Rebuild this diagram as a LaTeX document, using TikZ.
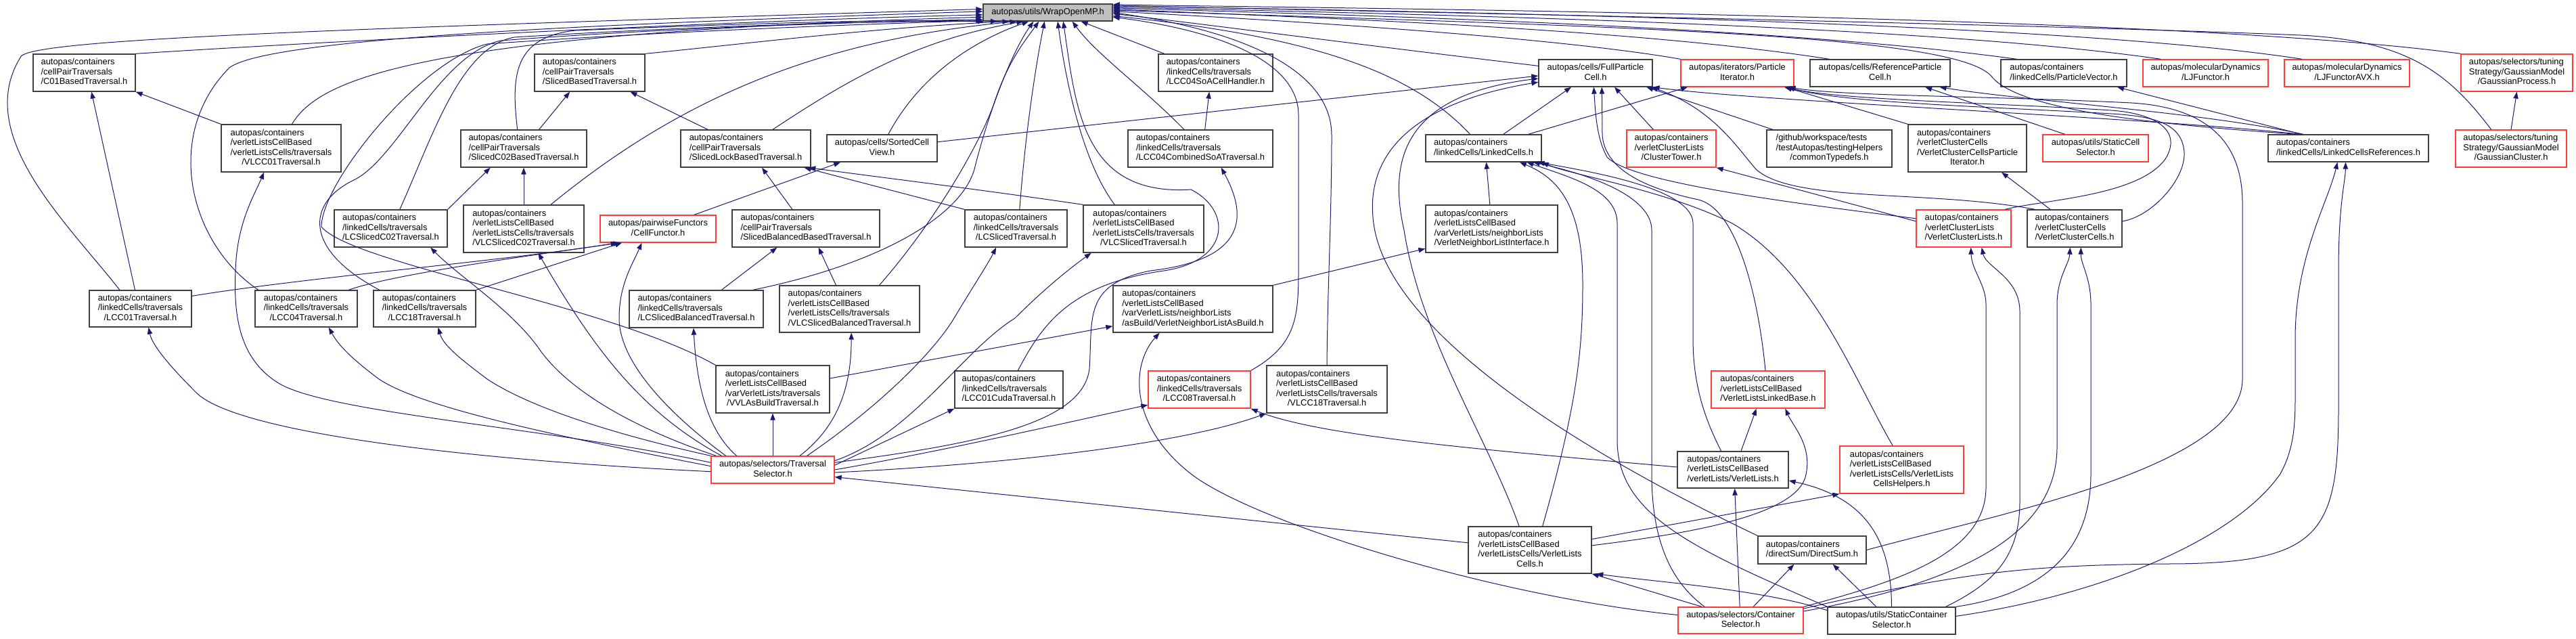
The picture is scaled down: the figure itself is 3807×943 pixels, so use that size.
\documentclass[tikz,border=0pt]{standalone}
\usepackage{fontspec}
\setmainfont{Liberation Sans}
\usetikzlibrary{arrows.meta}
\definecolor{edgeblue}{RGB}{25,25,112}
\definecolor{hotred}{RGB}{255,60,60}
\definecolor{boxgray}{RGB}{64,64,64}
\definecolor{rootfill}{RGB}{191,191,191}
\newcommand{\flines}[1]{\begin{tabular}{@{}l@{}}#1\end{tabular}}
\newcommand{\lastl}[1]{\multicolumn{1}{@{}c@{}}{#1}}
\tikzset{
  file/.style={draw=boxgray, line width=1pt, fill=white, inner sep=0pt,
    font=\fontsize{9.67}{10.9}\selectfont},
  hot/.style={file, draw=hotred},
  sz/.style 2 args={minimum width=#1*0.75pt, minimum height=#2*0.75pt},
  dep/.style={draw=edgeblue, line width=0.75pt, -{Triangle[length=7.5pt,width=5.5pt]}},
}
\begin{document}
\begin{tikzpicture}[x=0.75pt, y=-0.75pt]
  \useasboundingbox (0,0) rectangle (3807,943);
  \node[file, fill=rootfill, sz={191}{25}] (wrap) at (1548.5,18.5) {autopas/utils/WrapOpenMP.h};
  % row 2
  \node[file, sz={151}{55}] (c01b) at (124.5,107.5) {\flines{autopas/containers\\/cellPairTraversals\\\lastl{/C01BasedTraversal.h}}};
  \node[file, sz={163}{55}] (slb) at (871.5,107.5) {\flines{autopas/containers\\/cellPairTraversals\\\lastl{/SlicedBasedTraversal.h}}};
  \node[file, sz={169}{55}] (soah) at (1796.5,107.5) {\flines{autopas/containers\\/linkedCells/traversals\\\lastl{/LCC04SoACellHandler.h}}};
  \node[file, sz={168}{40}] (fpc) at (2358,108) {\flines{autopas/cells/FullParticle\\\lastl{Cell.h}}};
  \node[hot, sz={167}{40}] (pit) at (2567.5,108) {\flines{autopas/iterators/Particle\\\lastl{Iterator.h}}};
  \node[file, sz={207}{40}] (rpc) at (2778.5,108) {\flines{autopas/cells/ReferenceParticle\\\lastl{Cell.h}}};
  \node[file, sz={186}{40}] (pvec) at (3050,108) {\flines{autopas/containers\\\lastl{/linkedCells/ParticleVector.h}}};
  \node[hot, sz={185}{40}] (ljf) at (3259.5,108) {\flines{autopas/molecularDynamics\\\lastl{/LJFunctor.h}}};
  \node[hot, sz={185}{40}] (ljavx) at (3468.5,108) {\flines{autopas/molecularDynamics\\\lastl{/LJFunctorAVX.h}}};
  \node[hot, sz={165}{55}] (gproc) at (3719.5,107.5) {\flines{autopas/selectors/tuning\\Strategy/GaussianModel\\\lastl{/GaussianProcess.h}}};
  % row 3
  \node[file, sz={177}{70}] (vlcc01) at (415.5,219) {\flines{autopas/containers\\/verletListsCellBased\\/verletListsCells/traversals\\\lastl{/VLCC01Traversal.h}}};
  \node[file, sz={186}{55}] (sc02b) at (774,219.5) {\flines{autopas/containers\\/cellPairTraversals\\\lastl{/SlicedC02BasedTraversal.h}}};
  \node[file, sz={192}{55}] (slockb) at (1102,219.5) {\flines{autopas/containers\\/cellPairTraversals\\\lastl{/SlicedLockBasedTraversal.h}}};
  \node[file, sz={163}{40}] (scv) at (1303.5,219) {\flines{autopas/cells/SortedCell\\\lastl{View.h}}};
  \node[file, sz={214}{55}] (lcc04c) at (1774,219.5) {\flines{autopas/containers\\/linkedCells/traversals\\\lastl{/LCC04CombinedSoATraversal.h}}};
  \node[file, sz={171}{40}] (lc) at (2192.5,219) {\flines{autopas/containers\\\lastl{/linkedCells/LinkedCells.h}}};
  \node[hot, sz={132}{55}] (ctow) at (2470,219.5) {\flines{autopas/containers\\/verletClusterLists\\\lastl{/ClusterTower.h}}};
  \node[file, sz={185}{55}] (ctd) at (2703.5,219.5) {\flines{/github/workspace/tests\\/testAutopas/testingHelpers\\\lastl{/commonTypedefs.h}}};
  \node[file, sz={175}{70}] (vccpit) at (2907.5,219) {\flines{autopas/containers\\/verletClusterCells\\/VerletClusterCellsParticle\\\lastl{Iterator.h}}};
  \node[hot, sz={156}{40}] (scs) at (3097,219) {\flines{autopas/utils/StaticCell\\\lastl{Selector.h}}};
  \node[file, sz={237}{40}] (lcr) at (3470.5,219) {\flines{autopas/containers\\\lastl{/linkedCells/LinkedCellsReferences.h}}};
  \node[hot, sz={164}{55}] (gclu) at (3711,219.5) {\flines{autopas/selectors/tuning\\Strategy/GaussianModel\\\lastl{/GaussianCluster.h}}};
  % row 4
  \node[file, sz={167}{55}] (lcsc02) at (577.5,337.5) {\flines{autopas/containers\\/linkedCells/traversals\\\lastl{/LCSlicedC02Traversal.h}}};
  \node[file, sz={178}{70}] (vlcsc02) at (774,338) {\flines{autopas/containers\\/verletListsCellBased\\/verletListsCells/traversals\\\lastl{/VLCSlicedC02Traversal.h}}};
  \node[hot, sz={171}{40}] (cf) at (972.5,338) {\flines{autopas/pairwiseFunctors\\\lastl{/CellFunctor.h}}};
  \node[file, sz={218}{55}] (sbalb) at (1191,337.5) {\flines{autopas/containers\\/cellPairTraversals\\\lastl{/SlicedBalancedBasedTraversal.h}}};
  \node[file, sz={151}{55}] (lcsl) at (1501.5,337.5) {\flines{autopas/containers\\/linkedCells/traversals\\\lastl{/LCSlicedTraversal.h}}};
  \node[file, sz={178}{70}] (vlcsl) at (1690,338) {\flines{autopas/containers\\/verletListsCellBased\\/verletListsCells/traversals\\\lastl{/VLCSlicedTraversal.h}}};
  \node[file, sz={195}{70}] (vnli) at (2204.5,338) {\flines{autopas/containers\\/verletListsCellBased\\/varVerletLists/neighborLists\\\lastl{/VerletNeighborListInterface.h}}};
  \node[hot, sz={140}{55}] (vcl) at (2902,337.5) {\flines{autopas/containers\\/verletClusterLists\\\lastl{/VerletClusterLists.h}}};
  \node[file, sz={140}{55}] (vcc) at (3066,337.5) {\flines{autopas/containers\\/verletClusterCells\\\lastl{/VerletClusterCells.h}}};
  % row 5
  \node[file, sz={151}{54}] (lcc01) at (207.5,456) {\flines{autopas/containers\\/linkedCells/traversals\\\lastl{/LCC01Traversal.h}}};
  \node[file, sz={151}{54}] (lcc04) at (452.5,456) {\flines{autopas/containers\\/linkedCells/traversals\\\lastl{/LCC04Traversal.h}}};
  \node[file, sz={151}{54}] (lcc18) at (627.5,456) {\flines{autopas/containers\\/linkedCells/traversals\\\lastl{/LCC18Traversal.h}}};
  \node[file, sz={198}{55}] (lcsbal) at (1029,456.5) {\flines{autopas/containers\\/linkedCells/traversals\\\lastl{/LCSlicedBalancedTraversal.h}}};
  \node[file, sz={207}{69}] (vlcsbal) at (1255.5,456.5) {\flines{autopas/containers\\/verletListsCellBased\\/verletListsCells/traversals\\\lastl{/VLCSlicedBalancedTraversal.h}}};
  \node[file, sz={236}{69}] (vnlab) at (1763,456.5) {\flines{autopas/containers\\/verletListsCellBased\\/varVerletLists/neighborLists\\\lastl{/asBuild/VerletNeighborListAsBuild.h}}};
  % row 6
  \node[file, sz={168}{70}] (vvlab) at (1142,575) {\flines{autopas/containers\\/verletListsCellBased\\/varVerletLists/traversals\\\lastl{/VVLAsBuildTraversal.h}}};
  \node[file, sz={160}{55}] (cuda) at (1491,575.5) {\flines{autopas/containers\\/linkedCells/traversals\\\lastl{/LCC01CudaTraversal.h}}};
  \node[hot, sz={151}{55}] (lcc08) at (1772.5,575.5) {\flines{autopas/containers\\/linkedCells/traversals\\\lastl{/LCC08Traversal.h}}};
  \node[file, sz={178}{70}] (vlcc18) at (1961,575) {\flines{autopas/containers\\/verletListsCellBased\\/verletListsCells/traversals\\\lastl{/VLCC18Traversal.h}}};
  \node[hot, sz={168}{55}] (vllb) at (2613,575.5) {\flines{autopas/containers\\/verletListsCellBased\\\lastl{/VerletListsLinkedBase.h}}};
  % rows 7 to 9
  \node[hot, sz={182}{40}] (ts) at (1142,694) {\flines{autopas/selectors/Traversal\\\lastl{Selector.h}}};
  \node[file, sz={164}{54}] (vl) at (2561,694) {\flines{autopas/containers\\/verletListsCellBased\\\lastl{/verletLists/VerletLists.h}}};
  \node[hot, sz={183}{70}] (vlch) at (2810.5,694) {\flines{autopas/containers\\/verletListsCellBased\\/verletListsCells/VerletLists\\\lastl{CellsHelpers.h}}};
  \node[file, sz={182}{69}] (vlc) at (2261,812.5) {\flines{autopas/containers\\/verletListsCellBased\\/verletListsCells/VerletLists\\\lastl{Cells.h}}};
  \node[file, sz={160}{41}] (ds) at (2678,812.5) {\flines{autopas/containers\\\lastl{/directSum/DirectSum.h}}};
  \node[hot, sz={185}{39}] (cs) at (2572.5,916.5) {\flines{autopas/selectors/Container\\\lastl{Selector.h}}};
  \node[file, sz={189}{40}] (scsel) at (2795.5,917) {\flines{autopas/utils/StaticContainer\\\lastl{Selector.h}}};

  % includes of WrapOpenMP.h
  \draw[dep] (c01b.north east) .. controls (500,60) and (1100,30) .. (wrap.182);
  \draw[dep] ([xshift=-23pt]lcc01.north) .. controls (100,330) and (-40,200) .. (30,85) .. controls (35,60) and (400,45) .. (wrap.177);
  \draw[dep] ([xshift=-53pt]lcc04.north) .. controls (280,360) and (240,200) .. (339,100) .. controls (400,55) and (900,35) .. (wrap.179);
  \draw[dep] ([xshift=12pt]vlcc01.north) .. controls (470,120) and (600,50) .. (wrap.184);
  \draw[dep] ([xshift=-50pt]lcc18.north) .. controls (450,370) and (450,300) .. (525,265) .. controls (590,230) and (650,80) .. (740,60) .. controls (1000,40) and (1300,32) .. (wrap.186);
  \draw[dep] (vvlab.north west) .. controls (900,450) and (520,390) .. (475,335) .. controls (475,270) and (620,90) .. (720,65) .. controls (1000,45) and (1300,35) .. (wrap.187);
  \draw[dep] ([xshift=10pt]lcsc02.north) .. controls (640,200) and (680,70) .. (760,55) .. controls (1000,40) and (1300,30) .. (wrap.188);
  \draw[dep] ([xshift=-7pt]sc02b.north) .. controls (755,110) and (760,55) .. (850,45) .. controls (1100,35) and (1300,28) .. (wrap.190);
  \draw[dep] (slb.north east) .. controls (1100,65) and (1300,40) .. (wrap.193);
  \draw[dep] ([xshift=30pt]vlcsc02.north) .. controls (1000,150) and (1200,60) .. (wrap.196);
  \draw[dep] ([xshift=30pt]slockb.north) .. controls (1250,120) and (1350,60) .. (wrap.200);
  \draw[dep] ([xshift=7pt]scv.north) .. controls (1360,110) and (1440,60) .. (wrap.205);
  \draw[dep] ([xshift=-12pt]lcsbal.north east) .. controls (1300,390) and (1420,320) .. (1440,250) .. controls (1465,150) and (1500,70) .. (wrap.212);
  \draw[dep] ([xshift=33pt]vlcsbal.north) .. controls (1380,330) and (1450,210) .. (1470,150) .. controls (1490,90) and (1515,60) .. (wrap.225);
  \draw[dep] ([xshift=4pt]lcsl.north) .. controls (1515,200) and (1530,100) .. (wrap.250);
  \draw[dep] ([xshift=-32pt]vlcsl.north) .. controls (1600,240) and (1575,120) .. (wrap.318);
  \draw[dep] ([xshift=-18pt]lcc04c.north) .. controls (1690,130) and (1620,80) .. (wrap.340);
  \draw[dep] ([xshift=7pt]soah.north west) -- (wrap.345);
  \draw[dep] ([xshift=10pt]cuda.north) .. controls (1540,480) and (1580,420) .. (1720,400) .. controls (1820,385) and (1820,310) .. (1760,280) .. controls (1600,290) and (1590,160) .. (wrap.330);
  \draw[dep] (lcc08.north east) .. controls (1915,510) and (1919,470) .. (1919,400) -- (1919,170) .. controls (1919,90) and (1800,45) .. (wrap.356);
  \draw[dep] (vlcc18.north) .. controls (1962,420) and (1968,320) .. (1968,200) .. controls (1968,90) and (1800,40) .. (wrap.0);
  \draw[dep] ([xshift=-15pt]lc.north) .. controls (2090,110) and (1950,55) .. (wrap.-3);
  \draw[dep] ([yshift=8pt]fpc.west) .. controls (2000,65) and (1800,38) .. (wrap.-1);
  \draw[dep] (pit.north west) .. controls (2300,55) and (1900,30) .. (wrap.1);
  \draw[dep] ([xshift=22pt]rpc.north west) .. controls (2400,40) and (1900,25) .. (wrap.3);
  \draw[dep] ([xshift=18pt]pvec.north west) .. controls (2600,35) and (1900,20) .. (wrap.4);
  \draw[dep] ([xshift=20pt]ljf.north west) .. controls (2800,30) and (1900,18) .. (wrap.5);
  \draw[dep] ([xshift=20pt]ljavx.north west) .. controls (3000,25) and (1900,15) .. (wrap.6);
  \draw[dep] (gproc.north west) .. controls (3200,20) and (1900,12) .. (wrap.7);
  \draw[dep] ([xshift=-22pt]gclu.north) .. controls (3620,110) and (3560,60) .. (3400,52) .. controls (3000,35) and (1900,14) .. (wrap.6);
  \draw[dep] ([xshift=-56pt]lcr.north) .. controls (3200,185) and (2990,165) .. (2945,115) .. controls (2900,50) and (2400,40) .. (wrap.2);

  % traversals
  \draw[dep] ([xshift=-6pt]lcc01.north) -- ([xshift=8pt]c01b.south);
  \draw[dep] (vlcc01.north west) -- (c01b.south east);
  \draw[dep] ([xshift=17pt]sc02b.north) -- ([xshift=-22pt]slb.south);
  \draw[dep] ([xshift=-42pt]slockb.north) -- ([xshift=45pt]slb.south);
  \draw[dep] (vlcsc02.north) -- (sc02b.south);
  \draw[dep] (lcsc02.north east) -- ([xshift=-37pt]sc02b.south);
  \draw[dep] ([xshift=-15pt]sbalb.north) -- ([xshift=18pt]slockb.south);
  \draw[dep] (lcsl.north west) -- ([xshift=65pt]slockb.south);
  \draw[dep] (vlcsl.north west) .. controls (1450,280) and (1300,262) .. ([xshift=70pt]slockb.south);
  \draw[dep] ([xshift=40pt]cf.north) -- ([xshift=-46pt]scv.south);
  \draw[dep] ([yshift=7pt]scv.east) -- ([yshift=-3pt]fpc.west);
  \draw[dep] ([xshift=5pt]lcc04c.north) -- ([xshift=-7pt]soah.south);
  \draw[dep] ([xshift=28pt]lcsbal.north) -- ([xshift=-32pt]sbalb.south);
  \draw[dep] ([xshift=-15pt]vlcsbal.north) -- ([xshift=14pt]sbalb.south);
  \draw[dep] ([yshift=12pt]vvlab.east) -- ([yshift=-19pt]vnlab.west);
  \draw[dep] (vnlab.north east) -- ([yshift=-22pt]vnli.west);
  \draw[dep] ([xshift=-2pt]vnli.north) -- ([xshift=3pt]lc.south);
  \draw[dep] ([yshift=14pt]lcc01.east) .. controls (450,410) and (750,385) .. ([xshift=-45pt]cf.south);
  \draw[dep] ([xshift=-10pt]lcc04.north east) .. controls (580,405) and (800,375) .. ([xshift=-42pt]cf.south);
  \draw[dep] (lcc18.north east) -- ([xshift=-40pt]cf.south);

  % TraversalSelector.h
  \draw[dep] ([yshift=-2pt]ts.west) .. controls (700,680) and (350,640) .. (290,580) .. controls (250,540) and (225,510) .. ([xshift=9pt]lcc01.south);
  \draw[dep] ([yshift=4pt]ts.west) .. controls (800,640) and (620,600) .. (560,560) .. controls (520,530) and (500,510) .. ([xshift=25pt]lcc04.south);
  \draw[dep] ([yshift=8pt]ts.west) .. controls (800,630) and (480,610) .. (410,565) .. controls (355,530) and (345,470) .. (348,400) .. controls (350,330) and (375,290) .. ([xshift=-19pt]vlcc01.south);
  \draw[dep] (ts.north west) .. controls (900,640) and (780,600) .. (720,560) .. controls (680,530) and (655,510) .. ([xshift=15pt]lcc18.south);
  \draw[dep] ([xshift=6pt]ts.north west) .. controls (900,620) and (830,560) .. (800,520) .. controls (760,460) and (680,410) .. ([xshift=44pt]lcsc02.south);
  \draw[dep] ([xshift=12pt]ts.north west) .. controls (950,610) and (880,520) .. ([xshift=16pt]vlcsc02.south);
  \draw[dep] ([xshift=-52pt]ts.north) .. controls (1000,620) and (915,540) .. (915,470) .. controls (915,420) and (935,390) .. ([xshift=-18pt]cf.south);
  \draw[dep] ([xshift=-40pt]ts.north) .. controls (1050,640) and (1030,580) .. ([xshift=-3pt]lcsbal.south);
  \draw[dep] ([xshift=30pt]ts.north) .. controls (1245,625) and (1258,560) .. ([xshift=2pt]vlcsbal.south);
  \draw[dep] (ts.north) -- (vvlab.south);
  \draw[dep] ([xshift=38pt]ts.north) .. controls (1300,600) and (1380,520) .. (1410,470) .. controls (1440,420) and (1460,390) .. ([xshift=-22pt]lcsl.south);
  \draw[dep] ([yshift=10pt]ts.east) .. controls (1350,640) and (1420,520) .. (1500,470) .. controls (1550,420) and (1590,390) .. ([xshift=-58pt]vlcsl.south);
  \draw[dep] ([yshift=5pt]ts.east) -- (cuda.south west);
  \draw[dep] (ts.east) .. controls (1400,665) and (1550,630) .. ([yshift=-17pt]lcc08.west);
  \draw[dep] ([yshift=-3pt]ts.east) .. controls (1500,685) and (1750,655) .. (vlcc18.south west);
  \draw[dep] ([yshift=8pt]ts.east) .. controls (1450,655) and (1600,625) .. (1610,545) .. controls (1615,470) and (1600,420) .. (1700,400) .. controls (1830,385) and (1850,330) .. ([xshift=23pt]lcc04c.south);
  \draw[dep] ([yshift=8pt]vlc.west) -- ([yshift=-8pt]ts.east);

  % cells, iterators, containers
  \draw[dep] ([xshift=22pt]lc.north) -- ([xshift=-27pt]fpc.south);
  \draw[dep] ([xshift=-15pt]lc.north east) -- ([xshift=-55pt]pit.south);
  \draw[dep] ([xshift=-20pt]ctow.north) -- ([xshift=21pt]fpc.south);
  \draw[dep] ([xshift=7pt]ctd.north west) -- ([xshift=-7pt]fpc.south east);
  \draw[dep] (vccpit.north west) -- ([xshift=53pt]pit.south);
  \draw[dep] ([xshift=-27pt]vcc.north) -- ([xshift=38pt]vccpit.south);
  \draw[dep] ([xshift=-44pt]vcc.north) .. controls (2850,280) and (2650,300) .. (2595,250) .. controls (2565,215) and (2530,160) .. ([xshift=-2pt]fpc.south east);
  \draw[dep] ([xshift=-34pt]scs.north) -- ([xshift=50pt]rpc.south);
  \draw[dep] ([yshift=8pt]vcl.west) -- (ctow.south east);
  \draw[dep] ([yshift=11pt]vcl.west) .. controls (2650,300) and (2410,270) .. (2375,232) .. controls (2360,205) and (2358,170) .. ([xshift=-2pt]fpc.south);
  \draw[dep] (ds.north west) .. controls (2300,650) and (2050,480) .. (2030,330) .. controls (2015,220) and (2100,150) .. ([yshift=-10pt]fpc.west);
  \draw[dep] ([xshift=-12pt]vlc.north) .. controls (2200,650) and (2100,500) .. (2075,340) .. controls (2050,230) and (2080,140) .. ([yshift=-6pt]fpc.west);
  \draw[dep] ([xshift=14pt]vlc.north) .. controls (2330,600) and (2339,520) .. (2339,420) .. controls (2339,300) and (2300,262) .. ([xshift=40pt]lc.south);
  \draw[dep] (scsel.north west) .. controls (2500,810) and (2390,760) .. (2390,650) -- (2390,330) .. controls (2390,280) and (2320,262) .. ([xshift=48pt]lc.south);
  \draw[dep] ([xshift=-40pt]cs.north) .. controls (2470,860) and (2441,800) .. (2441,700) -- (2441,340) .. controls (2441,290) and (2350,258) .. ([xshift=55pt]lc.south);
  \draw[dep] ([xshift=-13pt]vl.north) .. controls (2520,620) and (2502,570) .. (2502,500) -- (2502,330) .. controls (2502,280) and (2360,255) .. ([xshift=60pt]lc.south);
  \draw[dep] ([xshift=-3pt]vllb.north) .. controls (2600,450) and (2570,310) .. (2510,295) .. controls (2430,278) and (2372,250) .. (2368,200) -- ([xshift=7pt]fpc.south);
  \draw[dep] ([xshift=-10pt]vlch.north) .. controls (2740,560) and (2680,400) .. (2560,330) .. controls (2460,280) and (2320,258) .. (lc.south east);
  \draw[dep] ([xshift=9pt]vl.north) -- ([xshift=-13pt]vllb.south);
  \draw[dep] ([yshift=5pt]vlc.east) .. controls (2480,790) and (2650,765) .. (2668,705) .. controls (2680,660) and (2650,630) .. ([xshift=19pt]vllb.south);
  \draw[dep] ([yshift=12pt]vlc.east) -- (vlch.south west);
  \draw[dep] ([yshift=3pt]vl.west) .. controls (2200,665) and (1950,645) .. (lcc08.south east);
  \draw[dep] ([yshift=6pt]cs.west) .. controls (2200,880) and (1850,770) .. (1760,700) .. controls (1670,630) and (1670,540) .. ([xshift=-37pt]vnlab.south);
  \draw[dep] ([xshift=-43pt]cs.north) -- (vlc.south east);
  \draw[dep] ([yshift=-4pt]scsel.north west) .. controls (2600,870) and (2450,860) .. ([xshift=5pt]vlc.south east);
  \draw[dep] ([xshift=-1pt]cs.north) -- ([xshift=2pt]vl.south);
  \draw[dep] ([xshift=14pt]cs.north) -- ([xshift=-20pt]ds.south);
  \draw[dep] ([xshift=-17pt]scsel.north) -- ([xshift=23pt]ds.south);
  \draw[dep] (scsel.north) .. controls (2795,800) and (2760,735) .. ([yshift=-12pt]vl.east);
  \draw[dep] (cs.north east) .. controls (2800,860) and (2935,820) .. (2935,720) -- (2935,450) .. controls (2935,420) and (2914,400) .. ([xshift=8pt]vcl.south);
  \draw[dep] ([xshift=60pt]scsel.north) .. controls (2950,860) and (2985,820) .. (2985,740) -- (2985,460) .. controls (2985,410) and (2935,395) .. ([xshift=20pt]vcl.south);
  \draw[dep] ([yshift=-5pt]cs.north east) .. controls (2900,860) and (3040,790) .. (3040,660) -- (3040,450) .. controls (3040,410) and (3058,390) .. ([xshift=-5pt]vcc.south);
  \draw[dep] (scsel.north east) .. controls (3000,880) and (3090,830) .. (3090,700) -- (3090,450) .. controls (3090,410) and (3075,390) .. ([xshift=7pt]vcc.south);
  \draw[dep] ([yshift=-2pt]cs.north east) .. controls (2900,845) and (3000,835) .. (3200,833) .. controls (3430,833) and (3456,790) .. (3456,600) -- (3456,400) .. controls (3456,300) and (3466,270) .. ([xshift=-3pt]lcr.south);
  \draw[dep] ([yshift=5pt]scsel.east) .. controls (3100,880) and (3300,800) .. (3370,700) .. controls (3392,660) and (3392,620) .. (3392,580) -- (3392,500) .. controls (3392,380) and (3440,300) .. ([xshift=-12pt]lcr.south);
  \draw[dep] (ds.east) .. controls (2950,760) and (3314,690) .. (3314,560) -- (3314,300) .. controls (3314,200) and (3250,158) .. (3150,152) .. controls (2950,142) and (2720,142) .. ([xshift=57pt]pit.south);
  \draw[dep] ([xshift=-52pt]lcr.north) -- ([xshift=-11pt]pvec.south east);
  \draw[dep] ([xshift=-50pt]lcr.north) .. controls (3250,165) and (3000,150) .. ([xshift=66pt]rpc.south);
  \draw[dep] ([xshift=-54pt]lcr.north) .. controls (3200,175) and (2600,150) .. (fpc.south east);
  \draw[dep] ([xshift=46pt]vcl.north) .. controls (3020,295) and (3160,290) .. (3200,235) .. controls (3225,195) and (3190,168) .. (3120,163) .. controls (2950,152) and (2720,148) .. ([xshift=52pt]pit.south);
  \draw[dep] ([yshift=8pt]vcc.east) .. controls (3180,320) and (3230,265) .. (3228,225) .. controls (3225,185) and (3190,172) .. (3120,168) .. controls (2950,158) and (2720,152) .. ([xshift=56pt]pit.south);
  \draw[dep] (gclu.north) -- (gproc.south);
\end{tikzpicture}
\end{document}
